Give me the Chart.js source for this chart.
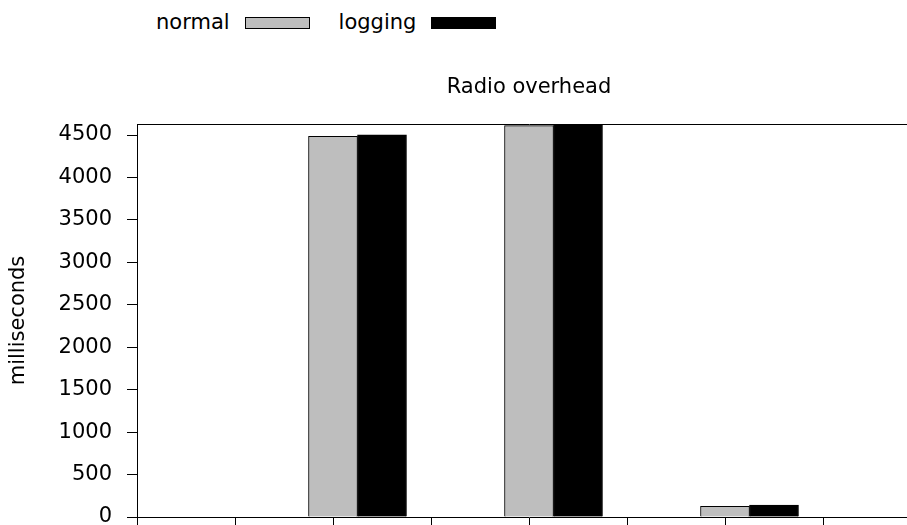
<!DOCTYPE html>
<html>
<head>
<meta charset="utf-8">
<title>Radio overhead</title>
<script src="https://cdn.jsdelivr.net/npm/chart.js@4.4.1/dist/chart.umd.min.js"></script>
<style>
  html, body { margin: 0; padding: 0; background: #fff; overflow: hidden; }
  body { width: 907px; height: 525px; position: relative; font-family: 'DejaVu Sans', sans-serif; }
  /* plot runs past the right edge, like the original gnuplot output */
  #wrap { position: absolute; left: 0; top: 0; width: 921px; height: 527px; }
  #legend { position: absolute; left: 156px; top: 10px; display: flex; align-items: flex-start;
            font-size: 21px; line-height: 24px; color: #000; }
  #legend .item { display: flex; align-items: flex-start; }
  #legend .item + .item { margin-left: 29px; }
  #legend .swatch { display: inline-block; width: 65px; height: 12px; margin-left: 15px; margin-top: 7px;
                    box-sizing: border-box; border: 1px solid #000; }
</style>
</head>
<body>
<div id="legend"></div>
<div id="wrap"><canvas id="chart"></canvas></div>
<script>
  // Data
  const groupPositions = [0, 1, 2, 3];
  const seriesLabels = ['normal', 'logging'];
  const normalValues = [0, 4485, 4611, 125];
  const loggingValues = [0, 4502, 4630, 140];
  const yTicks = [0, 500, 1000, 1500, 2000, 2500, 3000, 3500, 4000, 4500];
  const yMax = 4630;
  const xMin = 0;
  const xMax = 4;
  const xStep = 0.5;

  Chart.defaults.font.family = 'DejaVu Sans';
  Chart.defaults.font.size = 21;
  Chart.defaults.color = '#000';

  // gnuplot clusters: first bar of each cluster sits on the integer position
  const clusterOffset = 0.125;

  function toPoints(values) {
    return groupPositions.map((p, i) => ({ x: p + clusterOffset, y: values[i] }));
  }

  // HTML legend: label text first, swatch after it
  const htmlLegend = {
    id: 'htmlLegend',
    afterUpdate(chart) {
      const box = document.getElementById('legend');
      box.innerHTML = '';
      chart.data.datasets.forEach(ds => {
        const item = document.createElement('div');
        item.className = 'item';
        const text = document.createElement('span');
        text.textContent = ds.label;
        const swatch = document.createElement('span');
        swatch.className = 'swatch';
        swatch.style.background = ds.backgroundColor;
        item.append(text, swatch);
        box.append(item);
      });
    }
  };

  new Chart(document.getElementById('chart'), {
    type: 'bar',
    data: {
      datasets: [
        {
          label: seriesLabels[0],
          data: toPoints(normalValues),
          backgroundColor: '#bebebe',
          borderColor: '#000',
          borderWidth: 1
        },
        {
          label: seriesLabels[1],
          data: toPoints(loggingValues),
          backgroundColor: '#000000',
          borderColor: '#000',
          borderWidth: 1
        }
      ]
    },
    options: {
      responsive: true,
      maintainAspectRatio: false,
      animation: false,
      layout: { padding: 0 },
      datasets: {
        bar: { categoryPercentage: 1, barPercentage: 1, grouped: true }
      },
      plugins: {
        legend: { display: false },
        tooltip: { enabled: false },
        title: { display: false }
      },
      scales: {
        x: {
          type: 'linear',
          position: 'bottom',
          min: xMin,
          max: xMax,
          offset: false,
          grid: { offset: false, drawOnChartArea: false, drawTicks: true, tickLength: 10, color: '#000' },
          border: { color: '#000', width: 1 },
          ticks: { display: false, stepSize: xStep },
          afterFit: s => { s.height = 10; }
        },
        xTop: {
          type: 'linear',
          axis: 'x',
          position: 'top',
          min: xMin,
          max: xMax,
          offset: false,
          grid: { display: false },
          border: { color: '#000', width: 1 },
          ticks: { display: false },
          title: {
            display: true,
            text: 'Radio overhead',
            color: '#000',
            padding: { top: 75, bottom: 0 }
          },
          afterFit: s => { s.height = 124; }
        },
        y: {
          min: 0,
          max: yMax,
          grid: { drawOnChartArea: false, tickLength: 10, color: '#000' },
          border: { color: '#000', width: 1 },
          ticks: { padding: 15, color: '#000', callback: v => String(v) },
          afterBuildTicks: s => { s.ticks = yTicks.map(v => ({ value: v })); },
          title: {
            display: true,
            text: 'milliseconds',
            color: '#000',
            padding: { top: 6, bottom: 0 }
          },
          afterFit: s => {
            s.width = 137;
            // let the "0" label hang below the plot, as gnuplot does
            s.paddingTop = 0;
            s.paddingBottom = 0;
          }
        }
      }
    },
    plugins: [htmlLegend]
  });
</script>
</body>
</html>
